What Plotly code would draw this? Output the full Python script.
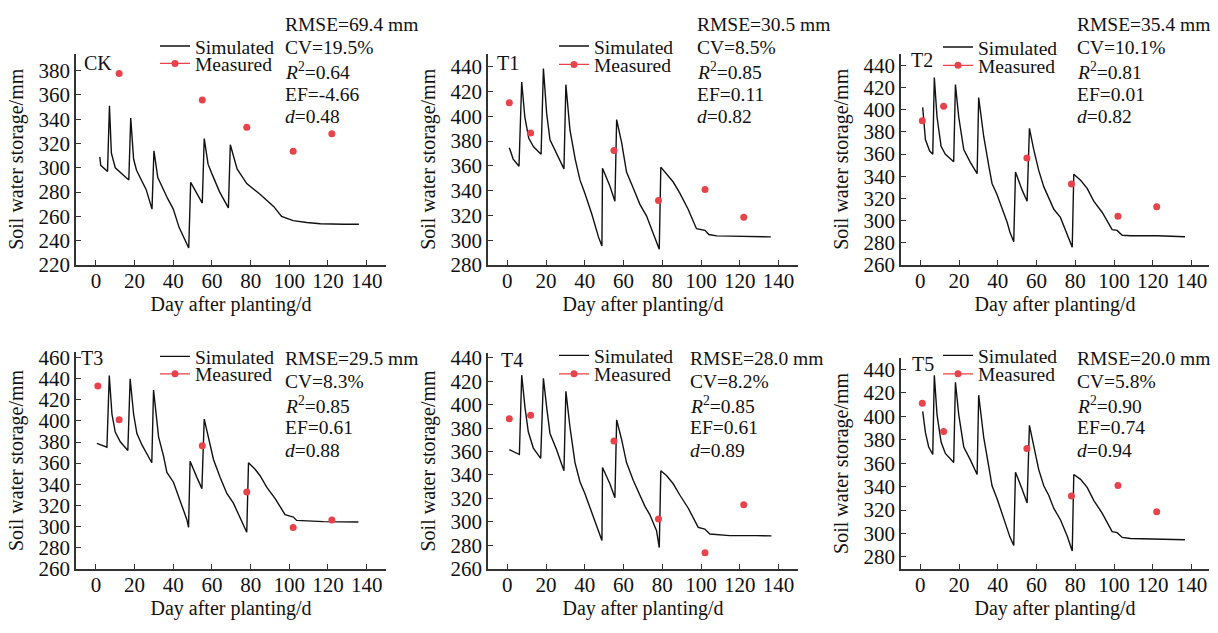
import plotly.graph_objects as go

W, H = 1218, 633

# ---------------- data ----------------
panel_names = ["CK", "T1", "T2", "T3", "T4", "T5"]

ck_sim_day = [2, 2.5, 6, 7, 8, 10, 17, 18, 19.5, 21, 26, 29, 30, 32, 37, 40, 43, 48, 49, 55, 56, 58, 60, 64,
              68.5, 69.5, 73, 78, 85, 92, 96, 100, 102, 109, 116, 128, 136]
ck_sim_val = [309, 302, 297, 351, 312, 300, 290, 341, 307, 298, 282, 266, 314, 292, 275, 266, 251, 234, 288, 271,
              324, 303, 295, 280, 267, 319, 299, 287, 278, 268, 260, 258, 256.5, 255, 254, 253.5, 253.5]

t1_sim_day = [1, 3, 6, 7.4, 9, 11, 13.5, 17.4, 18.6, 20.3, 22, 25.4, 29.2, 30.2, 32.3, 35, 37.5, 40, 43.6, 47,
              48.8, 49.1, 53, 55.5, 56.4, 59, 61.5, 65, 68.4, 71.8, 76, 78.4, 79.2, 82, 85.6, 89, 93.3, 97.6,
              100.2, 102, 104, 108, 115, 128.5, 136]
t1_sim_val = [374.6, 365.5, 359.7, 427.7, 399.5, 382.5, 375.4, 369.4, 438.7, 402, 381, 369.4, 357.6, 425.6, 389,
              365.5, 348.5, 338, 321, 302.7, 295.4, 358.2, 343.3, 331.5, 397.4, 378.6, 355, 342, 329, 319.7,
              302.7, 292.8, 359, 353.7, 347, 338, 325, 309.3, 308.5, 308, 304.6, 303.5, 303.3, 303.3, 302.7]

t2_sim_day = [1.2, 2.6, 4.8, 6.4, 7.2, 8.6, 10.7, 12.9, 17.2, 18.1, 19.8, 22.4, 25.8, 29.3, 30.1, 32.7, 35.3, 37,
              39.6, 44.8, 46.2, 48.2, 49.1, 52.5, 55.1, 56.3, 58.5, 61.1, 63.7, 66.3, 68.9, 72.3, 75.8, 78.4,
              79.2, 82.7, 86.1, 89.5, 93.9, 96.4, 99, 101.6, 104.2, 108.5, 122.3, 136.6]
t2_sim_val = [402, 373, 362.7, 359.8, 428.9, 393.3, 367, 359.8, 353, 422.5, 393.3, 364, 352.5, 342.3, 410.8,
              375.8, 349.6, 333.5, 323.3, 298.5, 289.8, 281, 343.7, 327.7, 317.5, 383.1, 364.2, 345.2, 330.6,
              320.4, 310.2, 302.9, 288.3, 276, 341.7, 336.4, 329.1, 317.5, 307.3, 300, 291.8, 291.2, 286.8,
              286.3, 286.3, 285.4]

t3_sim_day = [0.5, 3.1, 5.7, 6.9, 8.3, 10, 12.6, 16.5, 17.7, 19.5, 21.2, 23.8, 28.9, 29.8, 32.4, 35, 36.7, 40.1,
              44.4, 47, 47.9, 48.7, 52.2, 54.8, 56, 58.2, 60.8, 64.2, 67.7, 71.1, 74.6, 78, 78.9, 82.3, 84.9,
              88.3, 92.6, 97.8, 100.4, 102.1, 103.8, 109, 117.6, 135.7]
t3_sim_val = [378.7, 377.2, 375, 443.1, 406.3, 389.4, 380.2, 372, 440, 406.3, 388, 377.2, 360.3, 429.3, 384.8,
              366.4, 351.1, 341.9, 320.4, 306.6, 299, 361.8, 346.5, 335.8, 401.7, 384.8, 363.4, 346.5, 331.2,
              322, 308.2, 294.4, 360.3, 354.2, 348, 337.3, 326.6, 311.2, 309.7, 308.8, 305.7, 305, 304.5, 304.2]

t4_sim_day = [1, 3.1, 6.2, 7.4, 9.1, 10.8, 13.4, 17.2, 18.6, 20.3, 22, 25.4, 29.2, 30.2, 32.3, 34.9, 37.5, 40,
              43.6, 47, 48.8, 49.1, 52.9, 55.5, 56.4, 59, 61.5, 65, 68.4, 71, 73.5, 77, 78.4, 79.2, 82.1, 85.6,
              89, 93.3, 98.5, 101.9, 104.5, 107.9, 114.8, 128.5, 136.3]
t4_sim_val = [361.6, 360.2, 357.5, 425.3, 397.6, 376.9, 363, 354.2, 422.6, 397.6, 375.5, 361.6, 343.6, 411.5,
              381, 350.6, 334, 324.2, 307.6, 291, 284, 346.4, 332.5, 320.6, 387.1, 370, 350.6, 335.3, 322.9,
              313.2, 306.2, 292.4, 278, 343.6, 339.5, 332.5, 322.9, 311.8, 295.2, 293.8, 289.6, 289.1, 288.2,
              288.2, 288]

t5_sim_day = [1.2, 2.6, 4.3, 6.4, 7.2, 8.6, 10.7, 12.9, 17.2, 18.1, 19.8, 22.4, 25.8, 29.3, 30.1, 32.7, 35.3, 37,
              39.6, 44.8, 46.2, 48.2, 49.1, 52.5, 55.1, 56.3, 58.5, 61.1, 63.7, 66.3, 68.9, 72.3, 75.8, 78.4,
              79.2, 82.7, 86.1, 89.5, 93.9, 96.4, 99, 101.6, 104.2, 108.5, 122.3, 136.6]
t5_sim_val = [404.1, 386.2, 373.8, 367.4, 435, 401.4, 378, 368.3, 360.6, 429, 401.4, 373.8, 362.8, 350.3, 418,
              382, 357.2, 340.7, 329.7, 304.8, 297.1, 289.7, 352.3, 337.9, 326, 392.3, 373.8, 354.5, 340.7,
              332.4, 321.4, 311.7, 297.9, 285, 350.3, 346.2, 339.3, 328.3, 317.2, 309, 301.5, 300.7, 296.6,
              295.7, 295.2, 294.6]

ck_meas_day = [12, 55, 78, 102, 122]
ck_meas_val = [377.5, 355.8, 333.4, 313.7, 328]
t_meas_day = [1, 12, 55, 78, 102, 122]
t1_meas_val = [411, 386.5, 372.5, 332, 341, 318.5]
t2_meas_val = [390, 403, 356.5, 333, 304, 312.5]
t3_meas_val = [433, 401, 376.5, 332.5, 299, 306]
t4_meas_val = [388, 391, 369, 302.5, 273.5, 314.5]
t5_meas_val = [411, 387, 372.5, 332, 341, 318.5]

rmse = ["69.4", "30.5", "35.4", "29.5", "28.0", "20.0"]
cv = ["19.5", "8.5", "10.1", "8.3", "8.2", "5.8"]
r2 = ["0.64", "0.85", "0.81", "0.85", "0.85", "0.90"]
ef = ["-4.66", "0.11", "0.01", "0.61", "0.61", "0.74"]
dval = ["0.48", "0.82", "0.82", "0.88", "0.89", "0.94"]

sim_days = [ck_sim_day, t1_sim_day, t2_sim_day, t3_sim_day, t4_sim_day, t5_sim_day]
sim_vals = [ck_sim_val, t1_sim_val, t2_sim_val, t3_sim_val, t4_sim_val, t5_sim_val]
meas_days = [ck_meas_day, t_meas_day, t_meas_day, t_meas_day, t_meas_day, t_meas_day]
meas_vals = [ck_meas_val, t1_meas_val, t2_meas_val, t3_meas_val, t4_meas_val, t5_meas_val]

# ---------------- layout geometry (pixels) ----------------
xdom_px = [(76, 386), (488, 798), (901, 1209), (76, 386), (488, 798), (901, 1209)]
ydom_px = [(48, 266), (48, 266), (48, 266), (356, 579), (357, 579), (362, 579)]
xranges = [[-10.3, 150], [-10, 150], [-10, 149], [-10.3, 150], [-10, 150], [-10, 149]]
yranges = [[220, 394], [280, 450.7], [260, 450.5], [260, 465], [260, 444], [270, 449.6]]
ytick0 = [220, 280, 260, 260, 260, 280]
stat_x = [283, 695, 1075, 283, 688, 1075]
stat_y = [[18, 42, 66, 90, 113], [18, 42, 66, 90, 113], [18, 42, 66, 90, 113],
          [362, 386, 410, 433, 457], [362, 386, 410, 433, 457], [362, 386, 410, 433, 457]]
label_px = [(82, 58), (495, 58), (909, 55), (79, 362), (499, 364), (910, 368)]
leg_px = [(160, 40.5, 58.5), (559, 40.5, 59.5), (943, 41.5, 60.5),
          (160, 360.5, 378.5), (559, 359.5, 378.5), (943, 359.5, 378.5)]

FONT = "Liberation Serif"
RED = "#e8424a"
BLACK = "#111111"
AX = "#333333"


def px_x(p):
    return p / W


def px_y(p):
    return 1 - p / H


fig = go.Figure()
layout = dict(width=W, height=H, margin=dict(l=0, r=0, t=0, b=0),
              paper_bgcolor="white", plot_bgcolor="white",
              font=dict(family=FONT, size=20, color="#111111"), showlegend=True)
annotations = []

for i in range(6):
    sfx = "" if i == 0 else str(i + 1)
    xa, ya = "x" + sfx, "y" + sfx
    lg_sim = "legend" if i == 0 else "legend" + str(2 * i + 1)
    lg_meas = "legend" + str(2 * i + 2)

    fig.add_trace(go.Scatter(x=sim_days[i], y=sim_vals[i], mode="lines", name="Simulated",
                             line=dict(color=BLACK, width=1.4), xaxis=xa, yaxis=ya, legend=lg_sim))
    # measured points separated by gaps: only markers are drawn, the legend shows line + marker
    mx, my = [], []
    for d, v in zip(meas_days[i], meas_vals[i]):
        mx += [d, None]
        my += [v, None]
    fig.add_trace(go.Scatter(x=mx, y=my, mode="lines+markers", name="Measured", connectgaps=False,
                             line=dict(color=RED, width=1.2), marker=dict(color=RED, size=7),
                             xaxis=xa, yaxis=ya, legend=lg_meas))

    x0, x1 = xdom_px[i]
    y0, y1 = ydom_px[i]
    axis_common = dict(showline=True, linecolor=AX, linewidth=1.5, ticks="inside", ticklen=5,
                       tickcolor=AX, tickwidth=1.2, showgrid=False, zeroline=False,
                       tickfont=dict(family=FONT, size=21, color="#111111"))
    layout["xaxis" + sfx] = dict(domain=[px_x(x0), px_x(x1)], range=xranges[i], anchor=ya,
                                 tick0=0, dtick=20, ticklabelstandoff=-4,
                                 title=dict(text="Day after planting/d", standoff=4,
                                            font=dict(family=FONT, size=20)),
                                 **axis_common)
    layout["yaxis" + sfx] = dict(domain=[px_y(y1), px_y(y0)], range=yranges[i], anchor=xa,
                                 tick0=ytick0[i], dtick=20,
                                 title=dict(text="Soil water storage/mm", standoff=10,
                                            font=dict(family=FONT, size=20)),
                                 **axis_common)

    lines = ["RMSE=%s mm" % rmse[i], "CV=%s%%" % cv[i], "<i>R</i><sup>2</sup>=%s" % r2[i],
             "EF=%s" % ef[i], "<i>d</i>=%s" % dval[i]]
    for txt, yy in zip(lines, stat_y[i]):
        annotations.append(dict(text=txt, x=px_x(stat_x[i]), y=px_y(yy), xref="paper", yref="paper",
                                xanchor="left", yanchor="middle", align="left", showarrow=False,
                                font=dict(family=FONT, size=19.5, color="#111111")))
    lx, ly = label_px[i]
    annotations.append(dict(text=panel_names[i], x=px_x(lx), y=px_y(ly), xref="paper", yref="paper",
                            xanchor="left", yanchor="middle", showarrow=False,
                            font=dict(family=FONT, size=20, color="#111111")))

    gx, gy1, gy2 = leg_px[i]
    for lg, gy in ((lg_sim, gy1), (lg_meas, gy2)):
        layout[lg] = dict(x=px_x(gx - 5), y=px_y(gy), xanchor="left", yanchor="middle",
                          bgcolor="rgba(0,0,0,0)", borderwidth=0,
                          font=dict(family=FONT, size=19.5, color="#111111"))

layout["annotations"] = annotations
fig.update_layout(**layout)
fig.write_html("out.html", config={"displayModeBar": False},
               post_script="document.body.style.margin='0';document.body.style.overflow='hidden';")
